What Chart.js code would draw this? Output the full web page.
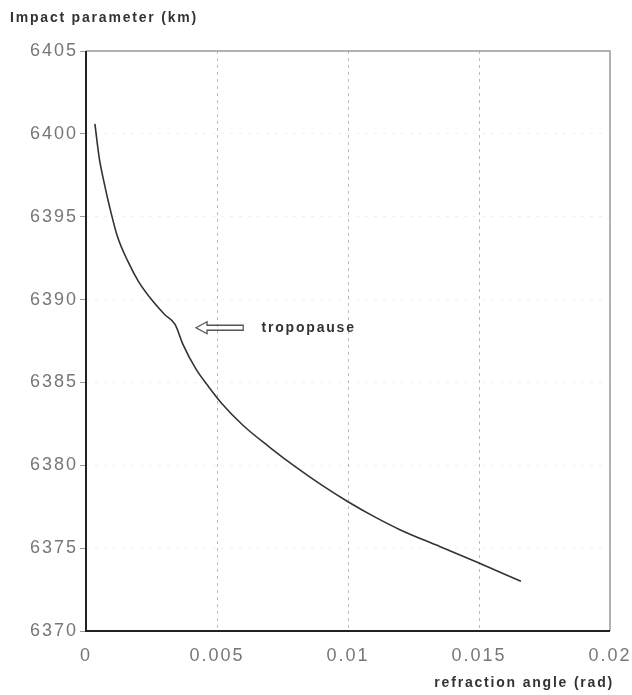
<!DOCTYPE html>
<html>
<head>
<meta charset="utf-8">
<script src="https://cdn.jsdelivr.net/npm/chart.js@4/dist/chart.umd.min.js"></script>
<style>
  html, body { margin: 0; padding: 0; background: #fff; }
  #wrap { width: 632px; height: 695px; position: relative; }
</style>
</head>
<body>
<div id="wrap"><canvas id="refrChart"></canvas></div>
<script>
// refraction angle (rad) vs impact parameter (km)
const angle = [0.00034, 0.0005, 0.0007, 0.0009, 0.0012, 0.0016, 0.0020, 0.0025,
               0.0030, 0.0034, 0.0037, 0.0042, 0.0047, 0.0052, 0.0060, 0.0070,
               0.0080, 0.0090, 0.0100, 0.0110, 0.0120, 0.0135, 0.0150, 0.0166];
const impact = [6400.6, 6398.6, 6397.0, 6395.6, 6393.8, 6392.3, 6391.1, 6390.0,
                6389.1, 6388.5, 6387.3, 6385.8, 6384.7, 6383.7, 6382.4, 6381.1,
                6379.9, 6378.8, 6377.8, 6376.9, 6376.1, 6375.1, 6374.1, 6373.0];

const xTicks = [0, 0.005, 0.01, 0.015, 0.02];
const xTickLabels = ['0', '0.005', '0.01', '0.015', '0.02'];
const yTicks = [6370, 6375, 6380, 6385, 6390, 6395, 6400, 6405];

const yTitle = 'Impact parameter (km)';
const xTitle = 'refraction angle (rad)';
const noteText = 'tropopause';
const noteArrow = [0.0042, 0.0060];  // tip, tail (rad)
const noteY = 6388.3;
const noteTextX = 0.0067;

const points = angle.map((a, i) => ({ x: a, y: impact[i] }));

const labelFont = 'bold 14px "Liberation Sans", Arial, sans-serif';

// frame, titles and the tropopause arrow
const extras = {
  id: 'extras',
  beforeDraw(chart) {
    chart.ctx.letterSpacing = '2px';
  },
  afterDraw(chart) {
    const ctx = chart.ctx;
    const a = chart.chartArea;
    const xs = chart.scales.x, ys = chart.scales.y;
    ctx.save();
    // top and right border (grey), left and bottom (black)
    ctx.strokeStyle = '#999';
    ctx.lineWidth = 1.5;
    ctx.beginPath();
    ctx.moveTo(a.left, a.top); ctx.lineTo(a.right, a.top); ctx.lineTo(a.right, a.bottom);
    ctx.stroke();
    ctx.strokeStyle = '#222';
    ctx.lineWidth = 2;
    ctx.beginPath();
    ctx.moveTo(a.left, a.top); ctx.lineTo(a.left, a.bottom); ctx.lineTo(a.right, a.bottom);
    ctx.stroke();

    // titles
    ctx.fillStyle = '#333';
    ctx.font = labelFont;
    ctx.letterSpacing = '1.8px';
    ctx.textBaseline = 'middle';
    ctx.textAlign = 'left';
    ctx.fillText(yTitle, 10, 18);
    ctx.textAlign = 'right';
    ctx.fillText(xTitle, 614, 683);

    // arrow
    const tip = xs.getPixelForValue(noteArrow[0]);
    const tail = xs.getPixelForValue(noteArrow[1]);
    const py = ys.getPixelForValue(noteY);
    ctx.strokeStyle = '#555';
    ctx.lineWidth = 1.3;
    ctx.beginPath();
    ctx.moveTo(tip, py);
    ctx.lineTo(tip + 11, py - 6);
    ctx.lineTo(tip + 11, py - 2.5);
    ctx.lineTo(tail, py - 2.5);
    ctx.lineTo(tail, py + 2.5);
    ctx.lineTo(tip + 11, py + 2.5);
    ctx.lineTo(tip + 11, py + 6);
    ctx.closePath();
    ctx.stroke();

    ctx.textAlign = 'left';
    ctx.fillText(noteText, xs.getPixelForValue(noteTextX), py);
    ctx.restore();
  }
};

new Chart(document.getElementById('refrChart'), {
  type: 'scatter',
  data: {
    datasets: [{
      data: points,
      showLine: true,
      borderColor: '#333',
      borderWidth: 1.6,
      pointRadius: 0,
      cubicInterpolationMode: 'monotone',
      fill: false
    }]
  },
  options: {
    responsive: true,
    maintainAspectRatio: false,
    animation: false,
    layout: { padding: { top: 51, right: 22, left: 0, bottom: 0 } },
    plugins: { legend: { display: false }, tooltip: { enabled: false } },
    scales: {
      x: {
        type: 'linear',
        min: 0,
        max: 0.02,
        afterBuildTicks(s) { s.ticks = xTicks.map(v => ({ value: v })); },
        afterFit(s) {
          s.height = 695 - 631;
          s.paddingRight = 0;
          s.paddingLeft = 0;
        },
        border: { display: false, dash: [3, 4] },
        grid: {
          color: ctx => (ctx.tick && (ctx.tick.value === 0 || ctx.tick.value === 0.02)) ? 'rgba(0,0,0,0)' : '#bdbdbd',
          lineWidth: 1,
          drawTicks: false,
          tickLength: 0
        },
        ticks: {
          padding: 14,
          color: '#777',
          font: { family: '"Liberation Sans", Arial, sans-serif', size: 18 },
          maxRotation: 0,
          callback: (v) => {
            const i = xTicks.indexOf(v);
            return i >= 0 ? xTickLabels[i] : '';
          }
        }
      },
      y: {
        type: 'linear',
        min: 6370,
        max: 6405,
        afterBuildTicks(s) { s.ticks = yTicks.map(v => ({ value: v })); },
        afterFit(s) { s.width = 86; },
        border: { display: false, dash: [3, 6] },
        grid: {
          color: ctx => (ctx.tick && (ctx.tick.value === 6370 || ctx.tick.value === 6405)) ? 'rgba(0,0,0,0)' : 'rgba(0,0,0,0.06)',
          lineWidth: 1,
          drawTicks: true,
          tickLength: 6,
          tickColor: '#999'
        },
        ticks: {
          padding: 2,
          color: '#777',
          font: { family: '"Liberation Sans", Arial, sans-serif', size: 18 },
          callback: v => String(v)
        }
      }
    }
  },
  plugins: [extras]
});
</script>
</body>
</html>
